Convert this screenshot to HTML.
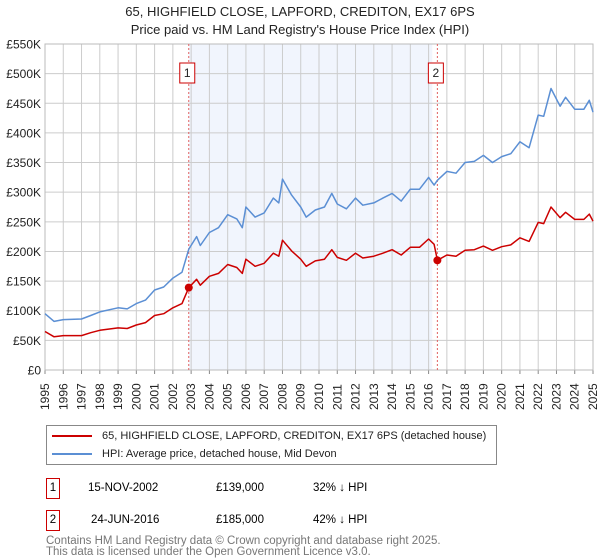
<!DOCTYPE html>
<html><head><meta charset="utf-8">
<style>
body{margin:0;background:#fff;font-family:"Liberation Sans","DejaVu Sans",sans-serif;}
#wrap{position:relative;width:600px;height:560px;overflow:hidden;}
.t{position:absolute;white-space:nowrap;line-height:14px;}
</style></head>
<body>
<div id="wrap">
<div class="t" style="left:0;width:600px;text-align:center;top:5px;font-size:13px;color:#222">65, HIGHFIELD CLOSE, LAPFORD, CREDITON, EX17 6PS</div>
<div class="t" style="left:0;width:600px;text-align:center;top:23px;font-size:13px;color:#222">Price paid vs. HM Land Registry's House Price Index (HPI)</div>
<svg id="chart" width="600" height="420" style="position:absolute;left:0;top:0"></svg>

<div style="position:absolute;left:46px;top:425px;width:451px;height:40px;border:1px solid #888;box-sizing:border-box">
 <div class="t" style="left:5px;top:3px;font-size:11px;color:#222"><span style="display:inline-block;width:40px;height:2px;background:#cc0000;vertical-align:middle;margin-right:10px"></span>65, HIGHFIELD CLOSE, LAPFORD, CREDITON, EX17 6PS (detached house)</div>
 <div class="t" style="left:5px;top:21px;font-size:11px;color:#222"><span style="display:inline-block;width:40px;height:2px;background:#5b8fd4;vertical-align:middle;margin-right:10px"></span>HPI: Average price, detached house, Mid Devon</div>
</div>

<div>
<div class="t" style="left:46px;top:478px;width:12px;height:19px;border:1px solid #c00;font-size:11.5px;text-align:center;line-height:19px">1</div>
<div class="t" style="left:88px;top:481px;font-size:11.5px">15-NOV-2002</div>
<div class="t" style="left:216px;top:481px;font-size:11.5px">£139,000</div>
<div class="t" style="left:313px;top:481px;font-size:11.5px">32% ↓ HPI</div>
</div>
<div>
<div class="t" style="left:46px;top:510px;width:12px;height:19px;border:1px solid #c00;font-size:11.5px;text-align:center;line-height:19px">2</div>
<div class="t" style="left:91px;top:513px;font-size:11.5px">24-JUN-2016</div>
<div class="t" style="left:216px;top:513px;font-size:11.5px">£185,000</div>
<div class="t" style="left:313px;top:513px;font-size:11.5px">42% ↓ HPI</div>
</div>
<div class="t" style="left:46px;top:536px;font-size:11.5px;color:#777;line-height:11px">Contains HM Land Registry data © Crown copyright and database right 2025.<br>This data is licensed under the Open Government Licence v3.0.</div>
</div>
<script>
const hpiYears=[1995,1995.5,1996,1997,1997.5,1998,1999,1999.5,2000,2000.5,2001,2001.5,2002,2002.5,2002.87,2003.3,2003.5,2004,2004.5,2005,2005.5,2005.8,2006,2006.5,2007,2007.5,2007.8,2008,2008.5,2009,2009.3,2009.8,2010.3,2010.7,2011,2011.5,2012,2012.4,2013,2013.5,2014,2014.5,2015,2015.5,2016,2016.3,2016.48,2017,2017.5,2018,2018.5,2019,2019.5,2020,2020.5,2021,2021.5,2022,2022.3,2022.7,2023.2,2023.5,2024,2024.5,2024.8,2025];
const hpiValues=[95,82,85,86,92,98,105,103,112,118,135,140,155,165,204,225,210,232,240,262,255,240,275,258,265,290,282,322,295,275,258,270,275,298,280,272,290,278,282,290,298,285,305,305,325,312,320,335,332,350,352,362,350,360,365,385,375,430,428,475,445,460,440,440,455,435];
const priceValues=[65,56,58,58,63,67,71,70,76,80,92,95,105,112,139,153,143,158,163,178,173,163,187,175,180,197,192,219,201,187,175,184,187,203,190,185,197,189,192,197,203,194,207,207,221,212,185,194,192,202,203,209,202,208,211,223,217,249,247,275,257,266,254,254,263,251];
const yTicks=[0,50,100,150,200,250,300,350,400,450,500,550];
const yTickLabels=["£0","£50K","£100K","£150K","£200K","£250K","£300K","£350K","£400K","£450K","£500K","£550K"];
const xTickYears=[1995,1996,1997,1998,1999,2000,2001,2002,2003,2004,2005,2006,2007,2008,2009,2010,2011,2012,2013,2014,2015,2016,2017,2018,2019,2020,2021,2022,2023,2024,2025];
const saleYears=[2002.87,2016.48];
const salePrices=[139,185];
const saleLabels=["1","2"];
const shadeRange=[2002.87,2016.2];

const L=45,R=593,T=44,B=370;
const xS=y=>L+(y-1995)/30*(R-L);
const yS=v=>B-v/550*(B-T);
const svg=document.getElementById('chart');
const NS='http://www.w3.org/2000/svg';
function mk(tag,attrs,parent){const e=document.createElementNS(NS,tag);for(const k in attrs)e.setAttribute(k,attrs[k]);(parent||svg).appendChild(e);return e;}

const bg=mk('rect',{x:L,y:T,width:R-L,height:B-T,fill:'#fff'});


const sh=mk('rect',{x:xS(shadeRange[0]),y:T,width:xS(shadeRange[1])-xS(shadeRange[0]),height:B-T,fill:'#eef3fc',opacity:0.8});



xTickYears.forEach(yr=>{
 const x=xS(yr);
 const g=mk('line',{x1:x,x2:x,y1:T,y2:B,stroke:'#cccccc','stroke-width':1});
 
 
 const tk=mk('line',{x1:x,x2:x,y1:B,y2:B+4,stroke:'#888','stroke-width':1});
 
 
 const t=mk('text',{x:0,y:0,transform:`translate(${x+4},${B+40}) rotate(-90)`,'font-size':12,fill:'#222','font-family':'Liberation Sans, sans-serif'});
 t.textContent=yr;
 
 
});
yTicks.forEach((v,i)=>{
 const y=yS(v);
 const g=mk('line',{x1:L,x2:R,y1:y,y2:y,stroke:'#cccccc','stroke-width':1});
 
 
 const t=mk('text',{x:L-4,y:y+4.5,'text-anchor':'end','font-size':12,fill:'#222','font-family':'Liberation Sans, sans-serif'});
 t.textContent=yTickLabels[i];
 
 
});
const ax=mk('rect',{x:L,y:T,width:R-L,height:B-T,fill:'none',stroke:'#bbb','stroke-width':1});



saleYears.forEach((yr,i)=>{
 const x=xS(yr);
 const l=mk('line',{x1:x,x2:x,y1:T,y2:B,stroke:'#e06060','stroke-width':1,'stroke-dasharray':'2,2'});
 
 
 const r=mk('rect',{x:x-9,y:63,width:15,height:20,fill:'#fff',stroke:'#c00','stroke-width':1});
 
 
 const t=mk('text',{x:x-1.5,y:77,'text-anchor':'middle','font-size':12,fill:'#222','font-family':'Liberation Sans, sans-serif'});
 t.textContent=saleLabels[i];
 
 
});

function path(vals,color,name){
 const d=hpiYears.map((yr,i)=>(i?'L':'M')+xS(yr).toFixed(1)+','+yS(vals[i]).toFixed(1)).join('');
 const p=mk('path',{d:d,fill:'none',stroke:color,'stroke-width':1.5,'stroke-linejoin':'round'});
 
 
}
path(hpiValues,'#5b8fd4','hpi-line');
path(priceValues,'#cc0000','property-price-line');
saleYears.forEach((yr,i)=>{
 const c=mk('circle',{cx:xS(yr),cy:yS(salePrices[i]),r:4,fill:'#cc0000'});
 
 
});
</script>
</body></html>
